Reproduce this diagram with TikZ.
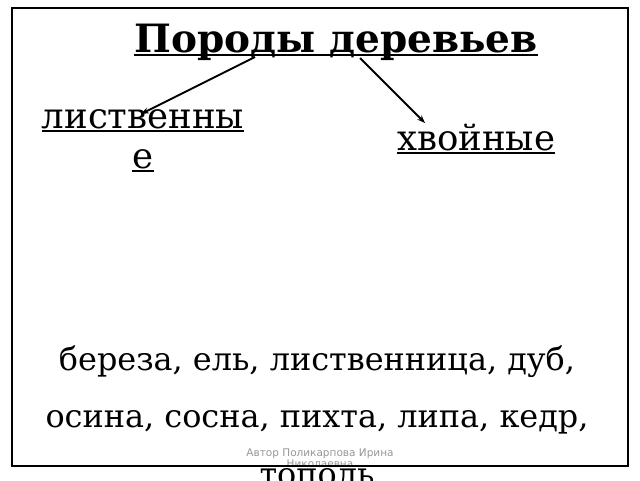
\documentclass[tikz,border=0pt]{standalone}
\usepackage{fontspec}
\setmainfont{DejaVu Serif}
\newfontfamily\footfont{DejaVu Sans}
\newcommand{\undl}[1]{\setbox0\hbox{#1}\rlap{\rule[-4pt]{\wd0}{1.8pt}}\box0}
\definecolor{FootGray}{RGB}{150, 150, 150}
\usetikzlibrary{arrows.meta, positioning}

\begin{document}
\begin{tikzpicture}[x=1pt, y=1pt,
    title/.style={font=\fontsize{39}{44}\selectfont\bfseries, inner sep=0pt, anchor=base},
    kind/.style={font=\fontsize{35.5}{40}\selectfont, inner sep=0pt, anchor=base, align=center},
    trees/.style={font=\fontsize{31.9}{57.5}\selectfont, inner sep=0pt, anchor=base, align=center},
    link/.style={line width=1.8pt, -{Stealth[length=8pt, width=6pt]}}]
    \useasboundingbox (0,0) rectangle (640,-480);
    \fill[white] (0,0) rectangle (640,-480);

    % Footer
    \node[font=\footfont\fontsize{10.5}{10.5}\selectfont, text=FootGray, align=center, inner sep=0pt, anchor=base]
        (author) at (320,-467) {Автор Поликарпова Ирина\\Николаевна};

    % Frame
    \draw[line width=2pt] (12,-8) rectangle (628,-466);

    % Title
    \node[title] (head) at (336,-52) {\undl{Породы деревьев}};

    % Kinds
    \node[kind] (leaf) at (143,-168) {\undl{лиственны}\\\undl{е}};
    \node[kind] (conif) at (476,-150) {\undl{хвойные}};

    % Arrows
    \coordinate (leafstart) at (255,-57);
    \coordinate (leafend) at (141,-114);
    \coordinate (conifstart) at (360,-58);
    \coordinate (conifend) at (425,-123);
    \draw[link] (leafstart) -- (leafend);
    \draw[link] (conifstart) -- (conifend);

    % Trees
    \node[trees] (list) at (317,-485) {береза, ель, лиственница, дуб,\\осина, сосна, пихта, липа, кедр,\\тополь};
\end{tikzpicture}
\end{document}
